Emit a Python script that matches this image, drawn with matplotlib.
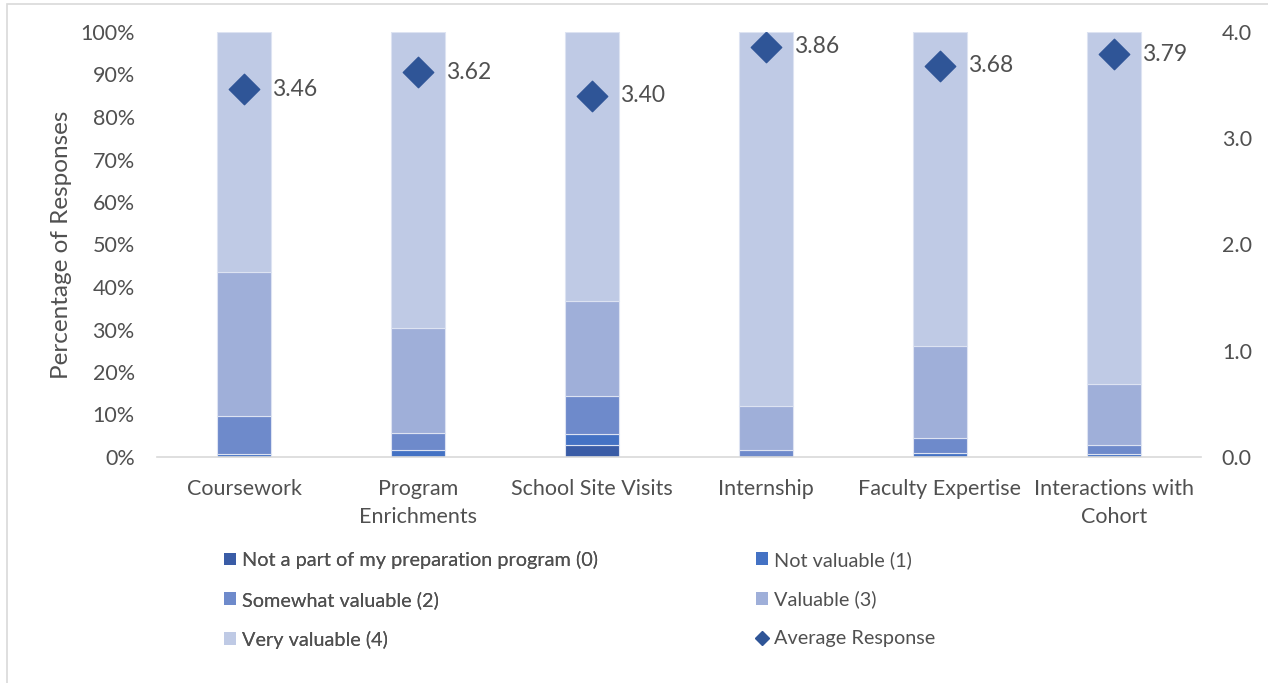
import matplotlib.pyplot as plt
from matplotlib.patches import Patch, Rectangle
from matplotlib.lines import Line2D
import numpy as np

plt.rcParams["font.family"] = ["Lato", "DejaVu Sans"]

categories = ["Coursework", "Program\nEnrichments", "School Site Visits",
              "Internship", "Faculty Expertise", "Interactions with\nCohort"]

# percentage of responses per rating level
not_part = [0.0, 0.0, 2.8, 0.0, 0.0, 0.0]
not_valuable = [0.7, 1.6, 2.5, 0.0, 0.9, 0.8]
somewhat_valuable = [8.9, 4.0, 9.1, 1.6, 3.6, 2.0]
valuable = [33.9, 24.8, 22.3, 10.4, 21.6, 14.4]
very_valuable = [56.5, 69.6, 63.3, 88.0, 73.9, 82.8]

average = [3.46, 3.62, 3.40, 3.86, 3.68, 3.79]

series = [
    ("Not a part of my preparation program (0)", not_part, "#3A5CA6"),
    ("Not valuable (1)", not_valuable, "#4472C4"),
    ("Somewhat valuable (2)", somewhat_valuable, "#6E8ACB"),
    ("Valuable (3)", valuable, "#9FAFD9"),
    ("Very valuable (4)", very_valuable, "#BFCAE5"),
]
diamond_color = "#2F5597"
text_color = "#505050"

fig = plt.figure(figsize=(12.68, 6.83), dpi=100)
ax = fig.add_axes([157 / 1268, 1 - 457 / 683, 1044 / 1268, 425 / 683])
ax2 = ax.twinx()

x = np.arange(len(categories))
bottom = np.zeros(len(categories))
handles = []
for label, vals, color in series:
    ax.bar(x, vals, width=0.31, bottom=bottom, color=color,
           edgecolor="#DDE3F2", linewidth=0.8, zorder=2)
    bottom += np.array(vals)
    handles.append(Patch(facecolor=color, label=label))

ax.set_xlim(-0.5, len(categories) - 0.5)
ax.set_ylim(0, 100)
ax.set_yticks(range(0, 101, 10))
ax.set_yticklabels([f"{v}%" for v in range(0, 101, 10)])
ax.set_xticks(x)
ax.set_xticklabels(categories, fontsize=16.5, color=text_color, linespacing=1.5)
ax.set_ylabel("Percentage of Responses", fontsize=17.5, color=text_color, labelpad=6)

ax2.scatter(x, average, marker="D", s=240, color=diamond_color, zorder=5)
for xi, a in zip(x, average):
    ax2.text(xi + 0.16, a, f"{a:.2f}", va="center", ha="left",
             fontsize=16.5, color=text_color)
ax2.set_ylim(0, 4)
ax2.set_yticks([0, 1, 2, 3, 4])
ax2.set_yticklabels([f"{v:.1f}" for v in range(5)])

for a in (ax, ax2):
    for s in a.spines.values():
        s.set_visible(False)
    a.tick_params(length=0, labelsize=15.5, labelcolor=text_color)
ax.spines["bottom"].set_visible(True)
ax.spines["bottom"].set_color("#D9D9D9")
ax.spines["bottom"].set_linewidth(1.2)
ax.tick_params(axis="y", pad=16)
ax.tick_params(axis="x", pad=16)
ax2.tick_params(axis="y", pad=15)

avg_handle = Line2D([], [], marker="D", linestyle="none", color=diamond_color,
                    markersize=7, label="Average Response")

legend_kw = dict(loc="upper left", frameon=False, fontsize=14.3, labelcolor=text_color,
                 handlelength=0.6, handleheight=0.6, handletextpad=0.3,
                 labelspacing=1.1)
leg1 = fig.legend(handles=[handles[0], handles[2], handles[4]],
                  bbox_to_anchor=(206 / 1268, 1 - 533 / 683), **legend_kw)
fig.legend(handles=[handles[1], handles[3], avg_handle],
           bbox_to_anchor=(738 / 1268, 1 - 533 / 683), **legend_kw)
fig.add_artist(leg1)

# thin outer frame
fig.patches.append(Rectangle((7 / 1268, -0.01), 1.1, 1 - 4 / 683 + 0.01,
                             transform=fig.transFigure, fill=False,
                             edgecolor="#D9D9D9", linewidth=1.2))

fig.savefig("out.png", dpi=100)
